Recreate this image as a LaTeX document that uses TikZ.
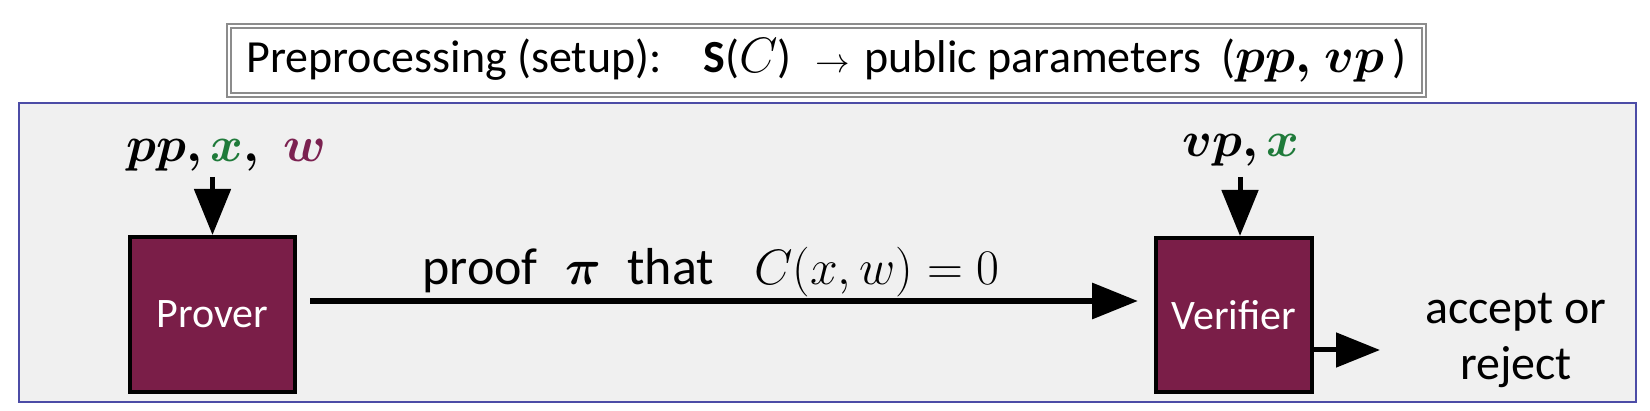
\documentclass[tikz,border=0pt]{standalone}
\usepackage{amsmath}
\usepackage{fontspec}
\setmainfont{Carlito}
\usetikzlibrary{arrows.meta}
\definecolor{boxfill}{HTML}{7A1E48}
\definecolor{xgreen}{HTML}{1F7A3A}
\definecolor{wred}{HTML}{7B2150}
\definecolor{bgray}{HTML}{F0F0F0}
\definecolor{frameblue}{HTML}{4C4CA6}
\definecolor{setupgray}{HTML}{8C8C8C}
\begin{document}
\begin{tikzpicture}[x=0.5pt,y=-0.5pt,
  party/.style={draw=black,line width=2pt,fill=boxfill,text=white,
    font=\fontsize{21}{25}\selectfont,inner sep=0pt},
  setupbox/.style={draw=setupgray,double=white,line width=1pt,double distance=0.8pt,
    fill=white,minimum width=597.5pt,minimum height=34.7pt,inner sep=0pt,
    font=\fontsize{23}{28}\selectfont},
  mainframe/.style={fill=bgray,draw=frameblue,line width=1pt},
  inarrow/.style={line width=2.5pt,-{Triangle[length=23pt,width=18pt]}},
  proofarrow/.style={line width=3.25pt,-{Triangle[length=23pt,width=17.5pt]}},
  outarrow/.style={line width=2.5pt,-{Triangle[length=22pt,width=17pt]}},
  lbl/.style={inner sep=0pt,font=\fontsize{28}{34}\selectfont},
  txt/.style={inner sep=0pt,font=\fontsize{26}{30}\selectfont},
  res/.style={inner sep=0pt,align=center,font=\fontsize{24}{28}\selectfont},
]
\useasboundingbox (0,0) rectangle (1650,411);
% frame
\draw[mainframe] (19,103) rectangle (1636,402);
% setup box
\node[setupbox] (setup) at (826.5,60.5)
  {Preprocessing (setup):\hspace*{21pt}\textbf{S}($C$)\hspace*{12pt}{\fontsize{17}{20}\selectfont$\rightarrow$}\hspace*{7pt}public parameters\hspace*{10pt}($\boldsymbol{pp,}\;\boldsymbol{vp}$\,)};
% parties
\node[party,minimum width=82.5pt,minimum height=77.5pt] (P) at (212.5,314.5) {Prover};
\node[party,minimum width=78pt,minimum height=77pt] (V) at (1234,315) {Verifier};
% input labels
\node[lbl,anchor=base west] (pin) at (126,162)
  {$\boldsymbol{pp,}\,{\color{xgreen}\boldsymbol{x}}\boldsymbol{,}\hspace{12pt}{\color{wred}\boldsymbol{w}}$};
\node[lbl,anchor=base west] (vin) at (1182,157)
  {$\boldsymbol{vp,}\,{\color{xgreen}\boldsymbol{x}}$};
\coordinate (in1) at (212.5,177);
\coordinate (in2) at (1240,177);
\draw[inarrow] (in1) -- (P.north);
\draw[inarrow] (in2) -- (in2 |- V.north);
% proof
\node[txt,anchor=base west] (plabel) at (422,285)
  {proof\hspace*{14pt}$\boldsymbol{\pi}$\hspace*{13pt}that\hspace*{20pt}{\fontsize{24}{28}\selectfont$C(x,w)=0$}};
\draw[proofarrow,shorten <=6.5pt,shorten >=8pt] (P.east |- 0,301) -- (V.west |- 0,301);
% result
\node[res] (result) at (1516,340) {accept or\\reject};
\coordinate (out) at (1380,350);
\draw[outarrow] (V.east |- out) -- (out);
\end{tikzpicture}
\end{document}
